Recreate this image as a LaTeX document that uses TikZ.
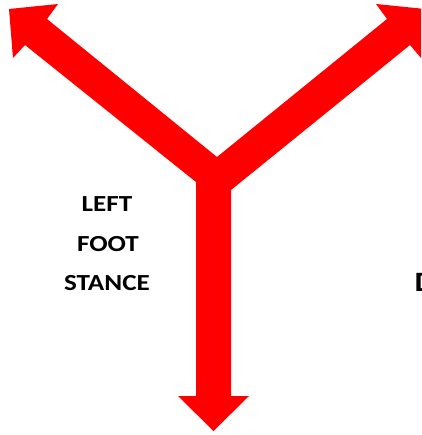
\documentclass[tikz,border=0pt]{standalone}
\usepackage{fontspec}
\newfontfamily\lbl[FakeStretch=1.18]{Carlito}
\definecolor{arrowred}{RGB}{255,0,0}
\tikzset{
  yarrow/.style={fill=arrowred, draw=none},
  caption/.style={font=\lbl\bfseries\fontsize{23}{23}\selectfont, anchor=base, inner sep=0pt, text=black}
}
\begin{document}
\begin{tikzpicture}[x=1pt,y=-1pt]
\useasboundingbox (0,0) rectangle (421,435);
\clip (0,0) rectangle (421,435);
\fill[white] (0,0) rectangle (421,435);
\fill[yarrow]
  (9,9) -- (58,4) -- (47,19) -- (217,157) -- (387,19) -- (376,4) -- (425,9)
  -- (421,58) -- (410,45) -- (231,190) -- (231,396) -- (249,396) -- (213.5,431)
  -- (178,396) -- (196,396) -- (196,182) -- (25,45) -- (13,58) -- cycle;
\node[caption] (l1) at (107,211.5) {LEFT};
\node[caption] (l2) at (108,251.5) {FOOT};
\node[caption] (l3) at (107,290) {STANCE};
\node[font=\lbl\bfseries\fontsize{28}{28}\selectfont, anchor=base west, inner sep=0pt] (r1) at (414.5,291.5) {D};
\end{tikzpicture}
\end{document}
